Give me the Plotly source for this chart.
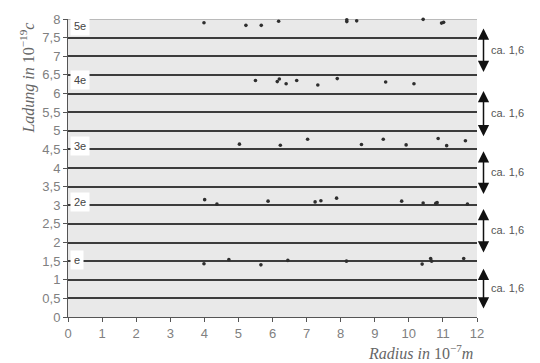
import plotly.graph_objects as go

# Data: radius (1e-7 m) and charge (1e-19 C)
radius_5e = [3.99, 5.22, 5.67, 6.18, 8.18, 8.18, 8.47, 10.42, 10.96, 11.02]
charge_5e = [7.90, 7.83, 7.83, 7.94, 7.93, 7.98, 7.95, 7.99, 7.89, 7.91]
radius_4e = [5.50, 6.14, 6.20, 6.40, 6.71, 7.33, 7.90, 9.32, 10.15]
charge_4e = [6.35, 6.32, 6.39, 6.26, 6.35, 6.23, 6.40, 6.31, 6.26]
radius_3e = [5.03, 6.23, 7.03, 8.61, 9.25, 9.92, 10.86, 11.11, 11.66]
charge_3e = [4.64, 4.61, 4.77, 4.63, 4.77, 4.62, 4.79, 4.60, 4.73]
radius_2e = [4.01, 4.37, 5.87, 7.25, 7.42, 7.88, 9.79, 10.42, 10.79, 10.83, 11.72]
charge_2e = [3.15, 3.03, 3.11, 3.09, 3.12, 3.19, 3.11, 3.06, 3.05, 3.07, 3.03]
radius_1e = [3.99, 4.72, 5.66, 6.45, 8.17, 10.39, 10.64, 10.67, 11.61]
charge_1e = [1.43, 1.54, 1.40, 1.52, 1.50, 1.42, 1.57, 1.50, 1.57]

level_labels = ["5e", "4e", "3e", "2e", "e"]
level_label_y = [7.80, 6.37, 4.58, 3.09, 1.54]

gap_labels = ["ca. 1,6", "ca. 1,6", "ca. 1,6", "ca. 1,6", "ca. 1,6"]
gap_top = [7.78, 6.10, 4.48, 2.93, 1.33]
gap_bottom = [6.58, 4.85, 3.30, 1.73, 0.23]

y_tickvals = [i * 0.5 for i in range(17)]
y_ticktext = ["0", "0,5", "1", "1,5", "2", "2,5", "3", "3,5", "4", "4,5",
              "5", "5,5", "6", "6,5", "7", "7,5", "8"]
x_tickvals = list(range(13))

fig = go.Figure()
all_r = radius_5e + radius_4e + radius_3e + radius_2e + radius_1e
all_q = charge_5e + charge_4e + charge_3e + charge_2e + charge_1e
fig.add_trace(go.Scatter(
    x=all_r, y=all_q, mode="markers",
    marker=dict(symbol="circle", size=3.6, color="#2e2e2e"),
    showlegend=False, cliponaxis=False))

L, R, T, B = 68, 63, 17, 46
W, H = 540, 363
pw = W - L - R
ph = H - T - B

SANS = "Liberation Sans"
SERIF = "Liberation Serif"

annotations = []
for lab, yv in zip(level_labels, level_label_y):
    annotations.append(dict(
        x=0.06, y=yv, xref="x", yref="y", text=lab, showarrow=False,
        xanchor="left", yanchor="middle", bgcolor="white", borderpad=3,
        font=dict(family=SANS, size=11, color="#444444")))

ppu = ph / 8.0
arrow_x = (483.5 - L) / pw
text_x = (507 - L) / pw
for lab, yt, yb in zip(gap_labels, gap_top, gap_bottom):
    annotations.append(dict(
        x=arrow_x, y=yb, xref="paper", yref="y",
        ax=0, ay=-(yt - yb) * ppu, axref="pixel", ayref="pixel",
        showarrow=True, arrowside="end+start", arrowhead=2, arrowsize=1.5,
        arrowwidth=1.5, arrowcolor="#111111", text=""))
    annotations.append(dict(
        x=text_x, y=(yt + yb) / 2, xref="paper", yref="y", text=lab,
        showarrow=False, xanchor="center", yanchor="middle",
        font=dict(family=SANS, size=11, color="#555555")))

annotations.append(dict(
    x=(420 - L) / pw, y=-(352 - (T + ph)) / ph, xref="paper", yref="paper",
    text="<i>Radius in</i> 10<sup>−7</sup><i>m</i>", showarrow=False,
    xanchor="center", yanchor="middle",
    font=dict(family=SERIF, size=16, color="#666666")))
annotations.append(dict(
    x=(28 - L) / pw, y=((T + ph) - 77) / ph, xref="paper", yref="paper",
    text="<i>Ladung in</i> 10<sup>−19</sup><i>c</i>", showarrow=False,
    textangle=-90, xanchor="center", yanchor="middle",
    font=dict(family=SERIF, size=16, color="#666666")))

shapes = [dict(type="line", xref="x", yref="y", x0=0, x1=12, y0=8, y1=8,
               line=dict(color="#aaaaaa", width=1.5), layer="below")]

fig.update_layout(
    width=W, height=H,
    margin=dict(l=L, r=R, t=T, b=B),
    paper_bgcolor="white", plot_bgcolor="#e9e9e9",
    annotations=annotations, shapes=shapes,
    xaxis=dict(range=[0, 12], tickvals=x_tickvals, showgrid=False,
               zeroline=False, showline=True, linecolor="#555555", linewidth=1,
               ticks="outside", ticklen=4, tickcolor="#555555",
               tickfont=dict(family=SANS, size=13, color="#808080")),
    yaxis=dict(range=[0, 8], tickvals=y_tickvals, ticktext=y_ticktext,
               showgrid=True, gridcolor="#3c3c3c", gridwidth=1.5,
               zeroline=False, showline=True, linecolor="#555555", linewidth=1,
               ticks="outside", ticklen=4, tickcolor="#555555",
               tickfont=dict(family=SANS, size=13, color="#808080")),
)

fig.write_html("out.html")
